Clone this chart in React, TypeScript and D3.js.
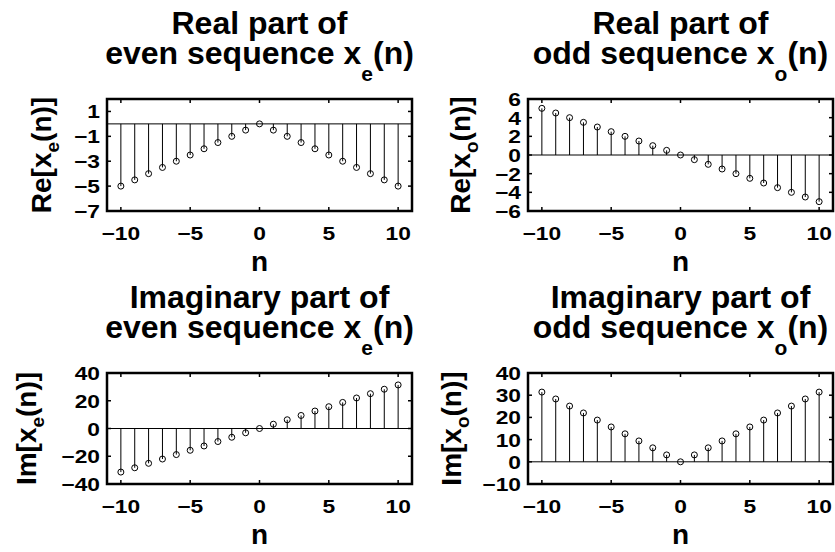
import React from "react";
import * as d3 from "d3";

const nValues = [-10, -9, -8, -7, -6, -5, -4, -3, -2, -1, 0, 1, 2, 3, 4, 5, 6, 7, 8, 9, 10];
const reEven = [-5, -4.5, -4, -3.5, -3, -2.5, -2, -1.5, -1, -0.5, 0, -0.5, -1, -1.5, -2, -2.5, -3, -3.5, -4, -4.5, -5];
const reOdd = [5, 4.5, 4, 3.5, 3, 2.5, 2, 1.5, 1, 0.5, 0, -0.5, -1, -1.5, -2, -2.5, -3, -3.5, -4, -4.5, -5];
const imEven = [-31.4, -28.3, -25.1, -22.0, -18.8, -15.7, -12.6, -9.4, -6.3, -3.1, 0, 3.1, 6.3, 9.4, 12.6, 15.7, 18.8, 22.0, 25.1, 28.3, 31.4];
const imOdd = [31.4, 28.3, 25.1, 22.0, 18.8, 15.7, 12.6, 9.4, 6.3, 3.1, 0, 3.1, 6.3, 9.4, 12.6, 15.7, 18.8, 22.0, 25.1, 28.3, 31.4];

const xDomain = [-11, 11];
const xTicks = [-10, -5, 0, 5, 10];
const reEvenDomain = [-7, 2];
const reEvenTicks = [-7, -5, -3, -1, 1];
const reOddDomain = [-6, 6];
const reOddTicks = [-6, -4, -2, 0, 2, 4, 6];
const imEvenDomain = [-40, 40];
const imEvenTicks = [-40, -20, 0, 20, 40];
const imOddDomain = [-10, 40];
const imOddTicks = [-10, 0, 10, 20, 30, 40];

const FONT = "'Liberation Sans', Arial, Helvetica, sans-serif";
const fmt = d3.format("d");
const TICK_FS = 19;
const TICK_SX = 1.2;

type PanelProps = {
  left: number; top: number; width: number; height: number;
  values: number[]; yDomain: number[]; yTicks: number[];
  title1: string; title2: string; titleSub: string;
  ylab: string; ylabSub: string; ylabX: number;
};

function Panel(p: PanelProps) {
  const x = d3.scaleLinear().domain(xDomain).range([p.left, p.left + p.width]);
  const y = d3.scaleLinear().domain(p.yDomain).range([p.top + p.height, p.top]);
  const cx = p.left + p.width / 2;
  const cy = p.top + p.height / 2;
  const y0 = y(0);
  const tl = 4;
  return (
    <g>
      {/* title */}
      <text x={cx} y={p.top - 65} textAnchor="middle" fontFamily={FONT} fontWeight="bold" fontSize={32}>{p.title1}</text>
      <text x={cx} y={p.top - 35} textAnchor="middle" fontFamily={FONT} fontWeight="bold" fontSize={32}>
        {p.title2}
        <tspan fontSize={21} dy={17}>{p.titleSub}</tspan>
        <tspan dy={-17}>(n)</tspan>
      </text>
      {/* zero line */}
      <line x1={p.left} x2={p.left + p.width} y1={y0} y2={y0} stroke="#000" strokeWidth={1} />
      {/* stems */}
      {nValues.map((n, i) => (
        <g key={n}>
          <line x1={x(n)} x2={x(n)} y1={y0} y2={y(p.values[i])} stroke="#000" strokeWidth={1} />
          <circle cx={x(n)} cy={y(p.values[i])} r={3} fill="none" stroke="#000" strokeWidth={1} />
        </g>
      ))}
      {/* ticks */}
      {xTicks.map((t) => (
        <g key={"x" + t}>
          <line x1={x(t)} x2={x(t)} y1={p.top + p.height} y2={p.top + p.height - tl} stroke="#000" strokeWidth={1.5} />
          <line x1={x(t)} x2={x(t)} y1={p.top} y2={p.top + tl} stroke="#000" strokeWidth={1.5} />
          <text transform={`translate(${x(t)},${p.top + p.height + 29}) scale(${TICK_SX},1)`} textAnchor="middle" fontFamily={FONT} fontWeight="bold" fontSize={TICK_FS}>{fmt(t)}</text>
        </g>
      ))}
      {p.yTicks.map((t) => (
        <g key={"y" + t}>
          <line x1={p.left} x2={p.left + tl} y1={y(t)} y2={y(t)} stroke="#000" strokeWidth={1.5} />
          <line x1={p.left + p.width} x2={p.left + p.width - tl} y1={y(t)} y2={y(t)} stroke="#000" strokeWidth={1.5} />
          <text transform={`translate(${p.left - 7},${y(t) + 7}) scale(${TICK_SX},1)`} textAnchor="end" fontFamily={FONT} fontWeight="bold" fontSize={TICK_FS}>{fmt(t)}</text>
        </g>
      ))}
      {/* box */}
      <rect x={p.left} y={p.top} width={p.width} height={p.height} fill="none" stroke="#000" strokeWidth={2.5} />
      {/* x label */}
      <text x={cx} y={p.top + p.height + 60} textAnchor="middle" fontFamily={FONT} fontWeight="bold" fontSize={28}>n</text>
      {/* y label */}
      <text transform={`translate(${p.ylabX},${cy}) rotate(-90)`} textAnchor="middle" fontFamily={FONT} fontWeight="bold" fontSize={28}>
        {p.ylab}
        <tspan fontSize={19} dy={8}>{p.ylabSub}</tspan>
        <tspan dy={-8}>(n)]</tspan>
      </text>
    </g>
  );
}

export default function App() {
  return (
    <svg width={835} height={552} style={{ position: "absolute", left: 0, top: 0, background: "#fff" }}>
      <rect width={835} height={552} fill="#fff" />
      <Panel left={107} top={99} width={305} height={112} values={reEven} yDomain={reEvenDomain} yTicks={reEvenTicks}
        title1="Real part of" title2="even sequence x" titleSub="e" ylab="Re[x" ylabSub="e" ylabX={51} />
      <Panel left={528} top={99} width={305} height={112} values={reOdd} yDomain={reOddDomain} yTicks={reOddTicks}
        title1="Real part of" title2="odd sequence x" titleSub="o" ylab="Re[x" ylabSub="o" ylabX={470} />
      <Panel left={107} top={373} width={305} height={111} values={imEven} yDomain={imEvenDomain} yTicks={imEvenTicks}
        title1="Imaginary part of" title2="even sequence x" titleSub="e" ylab="Im[x" ylabSub="e" ylabX={36} />
      <Panel left={528} top={373} width={305} height={111} values={imOdd} yDomain={imOddDomain} yTicks={imOddTicks}
        title1="Imaginary part of" title2="odd sequence x" titleSub="o" ylab="Im[x" ylabSub="o" ylabX={461} />
    </svg>
  );
}
